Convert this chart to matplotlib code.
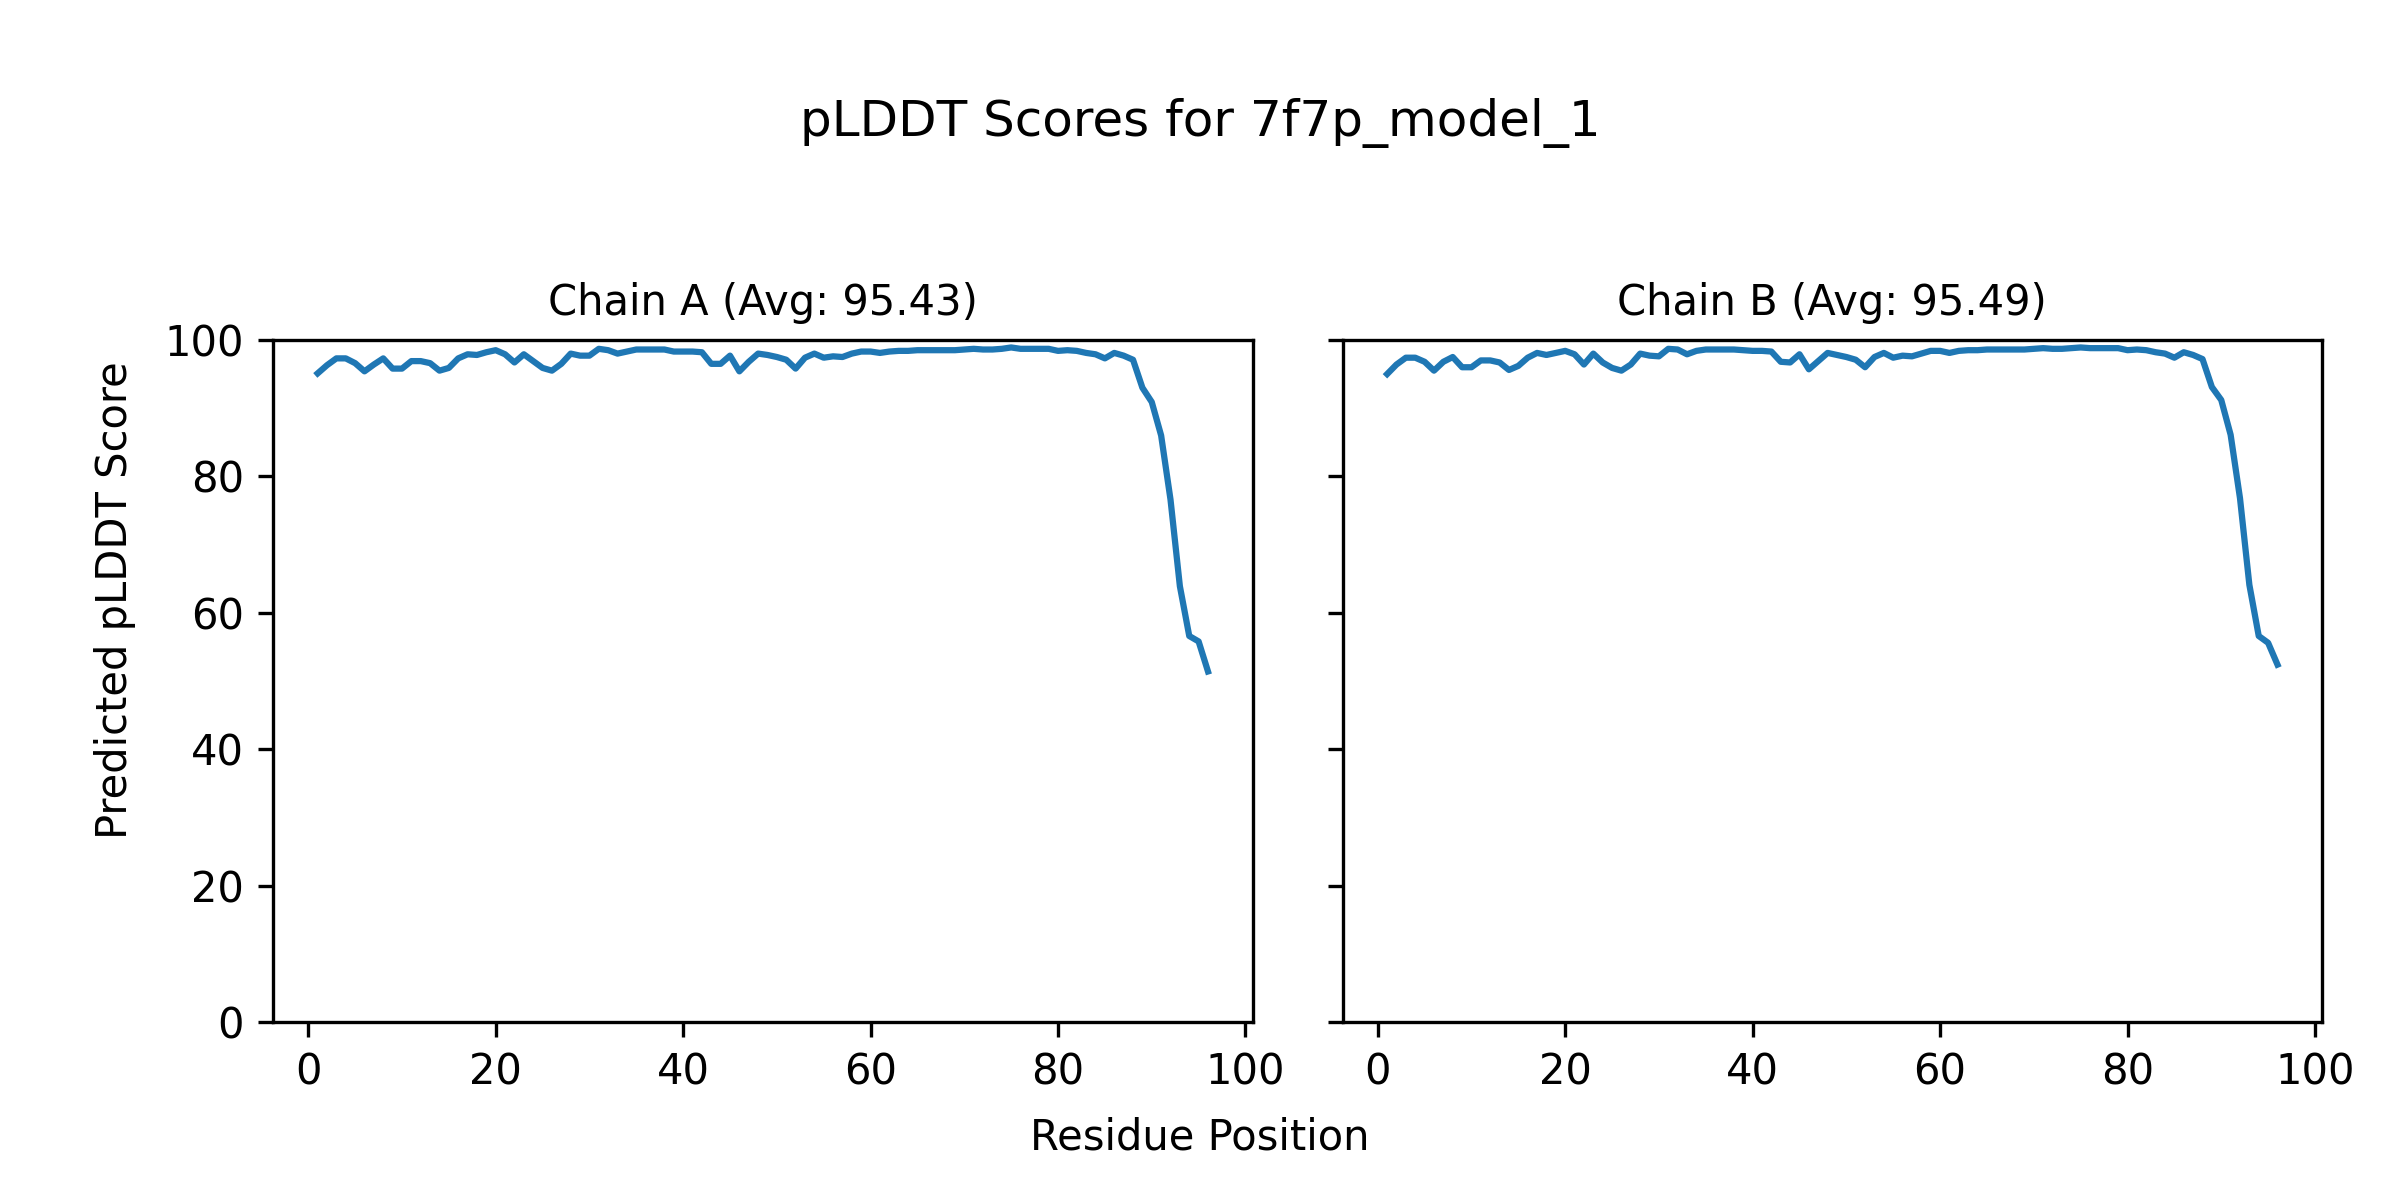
import numpy as np
import matplotlib
matplotlib.use("Agg")
import matplotlib.pyplot as plt

# ── Data ────────────────────────────────────────────────────
residues = list(range(1, 97))

chain_a = [
    95.1, 96.3, 97.3, 97.3, 96.6, 95.4, 96.4, 97.3, 95.8, 95.8,
    96.9, 96.9, 96.6, 95.5, 95.9, 97.3, 97.9, 97.8, 98.2, 98.5,
    97.9, 96.7, 97.9, 96.9, 95.9, 95.5, 96.5, 98.0, 97.7, 97.7,
    98.7, 98.5, 98.0, 98.3, 98.6, 98.6, 98.6, 98.6, 98.3, 98.3,
    98.3, 98.2, 96.5, 96.5, 97.7, 95.4, 96.8, 98.0, 97.8, 97.5,
    97.1, 95.8, 97.4, 98.0, 97.4, 97.6, 97.5, 98.0, 98.3, 98.3,
    98.1, 98.3, 98.4, 98.4, 98.5, 98.5, 98.5, 98.5, 98.5, 98.6,
    98.7, 98.6, 98.6, 98.7, 98.9, 98.7, 98.7, 98.7, 98.7, 98.4,
    98.5, 98.4, 98.1, 97.9, 97.3, 98.1, 97.7, 97.1, 93.0, 90.9,
    86.0, 76.6, 63.9, 56.6, 55.8, 51.4,
]

chain_b = [
    95.0, 96.4, 97.4, 97.4, 96.8, 95.5, 96.8, 97.5, 96.0, 96.0,
    97.0, 97.0, 96.7, 95.6, 96.2, 97.4, 98.1, 97.8, 98.1, 98.4,
    97.9, 96.4, 98.0, 96.7, 95.9, 95.5, 96.4, 98.0, 97.7, 97.6,
    98.7, 98.6, 97.9, 98.4, 98.6, 98.6, 98.6, 98.6, 98.5, 98.4,
    98.4, 98.3, 96.8, 96.7, 97.9, 95.7, 96.9, 98.1, 97.8, 97.5,
    97.1, 96.0, 97.5, 98.1, 97.4, 97.7, 97.6, 98.0, 98.4, 98.4,
    98.1, 98.4, 98.5, 98.5, 98.6, 98.6, 98.6, 98.6, 98.6, 98.7,
    98.8, 98.7, 98.7, 98.8, 98.9, 98.8, 98.8, 98.8, 98.8, 98.5,
    98.6, 98.5, 98.2, 98.0, 97.4, 98.2, 97.8, 97.2, 93.1, 91.2,
    86.1, 76.8, 64.1, 56.6, 55.6, 52.4,
]

chain_titles = ["Chain A (Avg: 95.43)", "Chain B (Avg: 95.49)"]
model_name = "7f7p_model_1"

# ── Plot ────────────────────────────────────────────────────
fig, axes = plt.subplots(1, 2, figsize=(8, 4), dpi=300, sharey=True)
fig.subplots_adjust(left=0.1138, right=0.9675, top=0.7167, bottom=0.1483,
                    wspace=0.092)

for ax, scores, title in zip(axes, [chain_a, chain_b], chain_titles):
    ax.plot(residues, scores, color="#1f77b4", linewidth=1.5)
    ax.set_title(title, fontsize=10)
    ax.set_ylim(0, 100)

fig.suptitle(f"pLDDT Scores for {model_name}", fontsize=12, y=0.918)
fig.supxlabel("Residue Position", fontsize=10, y=0.035)
fig.supylabel("Predicted pLDDT Score", fontsize=10, x=0.039)

plt.savefig("out.png", dpi=300)
